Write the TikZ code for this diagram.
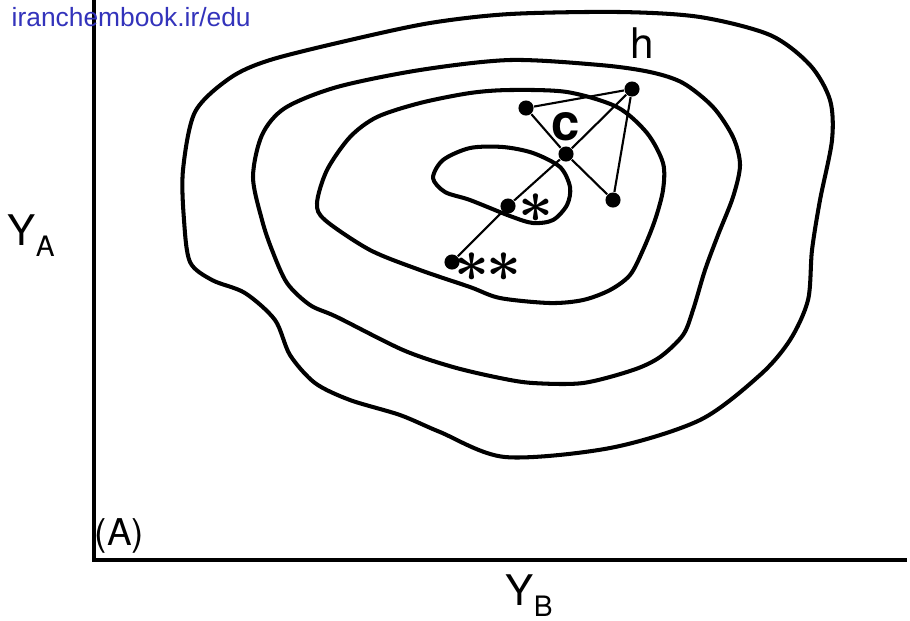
\documentclass[tikz,border=0pt]{standalone}
\usepackage{fontspec}
\setmainfont{TeX Gyre Heros}
\newfontfamily\webfont{Liberation Sans}
\usepackage{tikz}
\usetikzlibrary{positioning}
\definecolor{linkblue}{RGB}{51,51,187}

\begin{document}
\begin{tikzpicture}[x=0.01cm, y=-0.01cm,
  contour/.style={line width=1.15pt, line join=round},
  axisline/.style={line width=1.15pt},
  simplex/.style={line width=0.6pt},
  vertex/.style={circle, fill=black, inner sep=0pt, minimum size=4.3pt},
  lbl/.style={inner sep=0pt, font=\fontsize{12}{12}\selectfont},
  star/.style={inner sep=0pt, font=\fontsize{17}{17}\selectfont\boldmath}
]
\useasboundingbox (0,0) rectangle (910,620);

% axes
\coordinate (top) at (94,0);
\coordinate (origin) at (94,560);
\coordinate (right) at (907,560);
\draw[axisline] (top) -- (origin) -- (right);

% contours of the response surface
\draw[contour] plot[smooth cycle] coordinates {(183,170) (195,112) (230,78) (270,60) (350,40) (430,23) (510,14) (620,12) (700,17) (770,35) (810,65) (830,100) (832,140) (820,200) (812,250) (808,300) (790,340) (760,375) (700,420) (610,448) (505,457) (440,432) (400,415) (350,400) (315,383) (290,355) (275,320) (245,293) (212,280) (190,262) (184,220)};
\draw[contour] plot[smooth cycle] coordinates {(253,177) (262,135) (285,108) (337,87) (420,70) (510,60) (600,65) (650,72) (683,83) (713,107) (733,137) (740,165) (733,197) (718,235) (705,270) (693,310) (683,335) (660,357) (633,370) (583,383) (533,383) (500,378) (453,367) (403,350) (337,317) (310,305) (287,283) (272,250) (262,220)};
\draw[contour] plot[smooth cycle] coordinates {(317,203) (327,170) (350,137) (377,117) (420,103) (470,93) (510,90) (567,92) (617,107) (647,133) (663,163) (663,190) (655,220) (643,250) (630,275) (610,290) (583,300) (550,303) (500,298) (470,287) (420,270) (370,250) (325,220)};
\draw[contour] plot[smooth cycle] coordinates {(433,178) (443,160) (470,148) (503,147) (533,153) (560,167) (570,187) (567,205) (553,220) (533,223) (510,216) (470,200) (445,192)};

% simplex vertices
\node[vertex] (vh) at (632,89) {};
\node[vertex] (vl) at (526,108) {};
\node[vertex] (vc) at (566,154) {};
\node[vertex] (vr) at (613,200) {};
\node[vertex] (s1) at (508,206) {};
\node[vertex] (s2) at (452,262) {};

\draw[simplex] (vl) -- (vh) -- (vr) -- (vc) -- (vl);
\draw[simplex] (vh) -- (vc) -- (s1) -- (s2);

% labels
\node[lbl, anchor=base west] (hlbl) at (630,58) {h};
\node[inner sep=0pt, font=\fontsize{14.5}{14.5}\selectfont\bfseries] (clbl) at (566,127) {c};
\node[star] (s1lbl) at (536,208) {$\ast$};
\node[star] (s2lbl) at (488,267) {${\ast}\kern-1pt{\ast}$};

\node[lbl, anchor=base west] (ya) at (7,245) {Y\raisebox{-3.4pt}{\fontsize{8}{8}\selectfont A}};
\node[lbl, anchor=base west] (yb) at (505,605) {Y\raisebox{-3.4pt}{\fontsize{8}{8}\selectfont B}};
\node[inner sep=0pt, anchor=base west, font=\fontsize{10.5}{10.5}\selectfont] (plotname) at (94,545) {(A)};

\node[inner sep=0pt, anchor=base west, text=linkblue, font=\webfont\fontsize{7.5}{7.5}\selectfont] (web) at (11,26) {iranchembook.ir/edu};
\end{tikzpicture}
\end{document}
